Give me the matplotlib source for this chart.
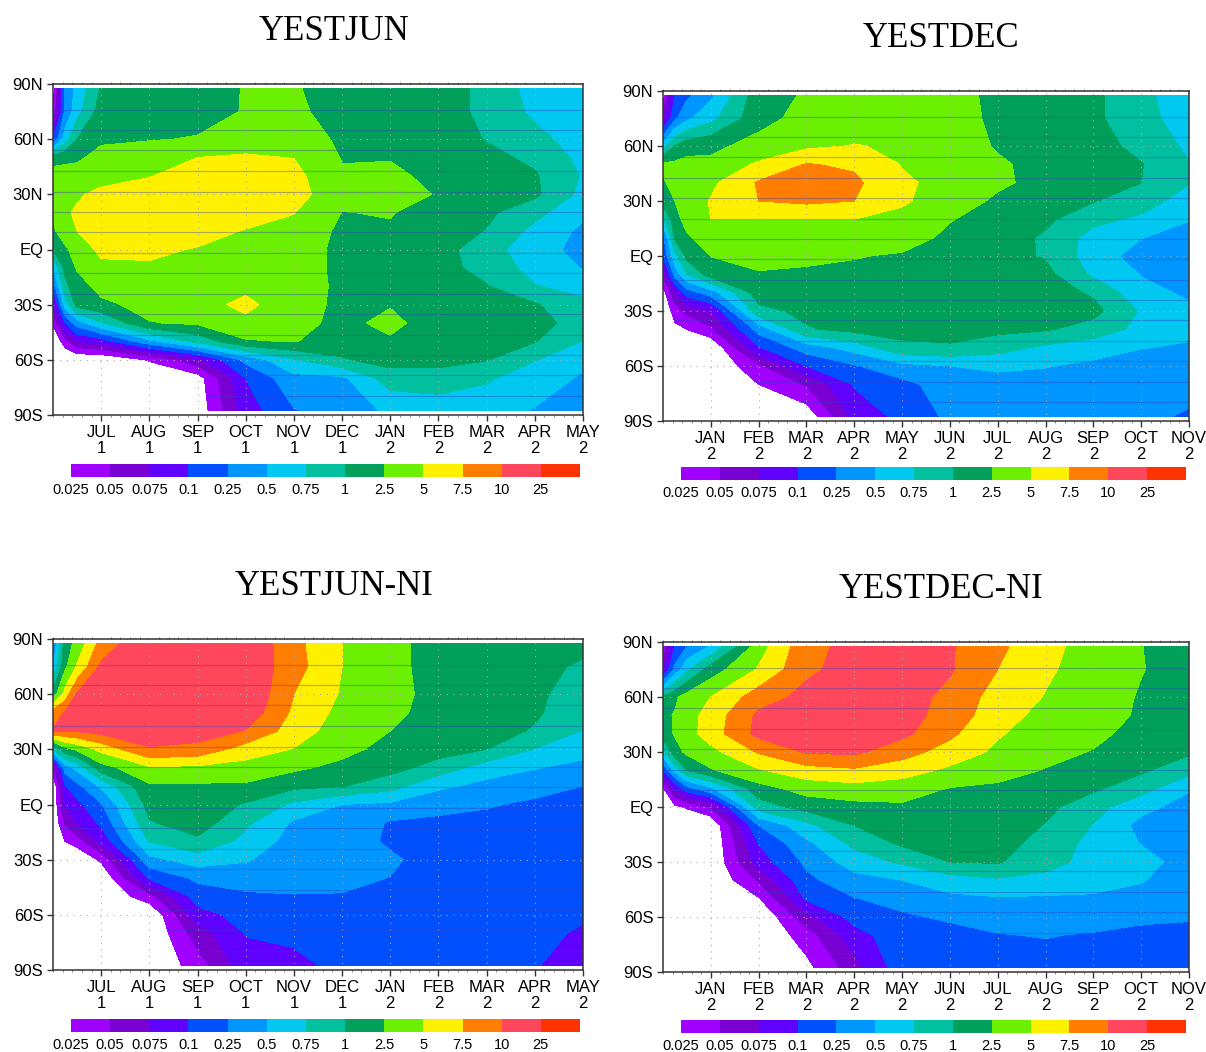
import numpy as np
import matplotlib
matplotlib.use("Agg")
from matplotlib import pyplot as plt
from matplotlib.colors import ListedColormap

# latitude rows and month columns of the four fields
lats = [87.5, 75, 60, 50, 40, 30, 20, 10, 0, -10, -20, -30, -40, -50, -60, -70, -87.5]
months = [0, 0.25, 0.5, 1, 2, 3, 4, 5, 6, 7, 8, 9, 10, 11]
level_labels = ["0.025", "0.05", "0.075", "0.1", "0.25", "0.5", "0.75", "1", "2.5", "5", "7.5", "10", "25"]
band_colors = ["#a000ff", "#7800d2", "#6000ff", "#0050ff", "#0096ff", "#00c8f0", "#00c0a0",
               "#00a05a", "#6af000", "#fff000", "#ff7d00", "#ff465a", "#ff3200"]
stripe_lats = [76, 65, 54, 42.8, 31.5, 20.4, 9.3, -1.8, -13, -24, -35, -46.4, -57.5, -68.5, -79.6]

labels_jun = ["JUL\n1", "AUG\n1", "SEP\n1", "OCT\n1", "NOV\n1", "DEC\n1", "JAN\n2", "FEB\n2", "MAR\n2", "APR\n2", "MAY\n2"]
labels_dec = ["JAN\n2", "FEB\n2", "MAR\n2", "APR\n2", "MAY\n2", "JUN\n2", "JUL\n2", "AUG\n2", "SEP\n2", "OCT\n2", "NOV\n2"]

# values are positions on the colour scale (0 = 0.025, 1 = 0.05 ... 12 = 25), one list per month column, -1 = below scale
yestjun = [
    [-0.5, 0, 3, 7.6, 8.4, 8.5, 8.2, 7.8, 7.0, 5, 3.5, 1.5, 0.2, -1, -1, -1, -1],
    [4.2, 4.2, 5.5, 7.7, 8.5, 8.7, 8.9, 8.6, 7.8, 7.3, 6.7, 5.5, 3, 0.5, -1, -1, -1],
    [5.3, 5.6, 7, 7.8, 8.5, 8.9, 9.1, 9.0, 8.5, 8.1, 7.6, 7.4, 4.5, 2, -1, -1, -1],
    [7.1, 7.5, 7.8, 8.4, 8.7, 9.2, 9.5, 9.4, 9.2, 8.8, 8.3, 7.8, 5.9, 2.5, -1, -1, -1],
    [7.3, 7.6, 7.95, 8.5, 8.97, 9.3, 9.5, 9.4, 9.15, 8.9, 8.6, 8.3, 7.95, 4.7, 0.1, -1, -1],
    [7.6, 7.7, 8.05, 9.0, 9.3, 9.5, 9.5, 9.3, 8.95, 8.8, 8.6, 8.55, 8.15, 6.3, 1.7, -0.5, -0.7],
    [8.05, 8.05, 8.6, 9.1, 9.4, 9.5, 9.4, 8.95, 8.7, 8.5, 8.7, 9.3, 8.7, 7.9, 4.3, 3, 2.5],
    [8.1, 8.2, 8.6, 8.98, 9.3, 9.4, 9.03, 8.7, 8.4, 8.3, 8.25, 8.2, 8.25, 8.05, 5.9, 4.7, 3.95],
    [7.5, 7.6, 7.8, 7.95, 8.1, 8.3, 7.98, 7.8, 7.8, 7.85, 7.9, 7.9, 7.8, 7.5, 6.9, 4.8, 4.4],
    [7.3, 7.4, 7.6, 7.95, 8.2, 8.3, 8.05, 7.9, 7.7, 7.6, 7.6, 7.95, 8.2, 7.9, 7.4, 6.5, 5.2],
    [7.45, 7.45, 7.5, 7.6, 7.75, 7.95, 7.6, 7.5, 7.45, 7.3, 7.3, 7.4, 7.6, 7.5, 7.3, 6.6, 5.4],
    [6.75, 6.75, 6.95, 7.25, 7.4, 7.4, 7.2, 6.95, 6.35, 6.7, 7.05, 7.3, 7.4, 7.3, 7.05, 6.15, 5.3],
    [5.6, 5.8, 6.3, 6.8, 7.1, 7.2, 6.3, 5.7, 5.5, 5.6, 6.05, 7.1, 7.5, 7.05, 6.05, 5.4, 4.95],
    [5.4, 5.4, 5.5, 5.7, 5.9, 5.7, 5.2, 4.8, 4.6, 4.95, 5.7, 6.2, 6.4, 5.95, 5.2, 4.9, 4.5],
]

yestdec = [
    [-0.5, 1.5, 5.5, 8.2, 7.9, 7.5, 5.8, 3.7, 3.1, 1.2, -0.5, -1, -1, -1, -1, -1, -1],
    [3.1, 3.8, 7.05, 8.2, 8.3, 8.0, 7.6, 7.15, 5.7, 4.4, 1.8, 0.5, -0.3, -1, -1, -1, -1],
    [3.8, 4.8, 7.6, 8.3, 8.5, 8.6, 8.4, 7.85, 7.3, 6.0, 3.5, 1.3, 0, -1, -1, -1, -1],
    [4.8, 5.7, 7.8, 8.2, 8.8, 9.05, 9.0, 8.5, 8.02, 7.5, 4.5, 1.9, 0.8, -1, -1, -1, -1],
    [7.6, 7.7, 8.3, 9.15, 10.1, 10.0, 9.0, 8.6, 8.2, 7.95, 7.5, 6.7, 4.4, 2.9, 0.75, 0, -1],
    [8.1, 8.3, 8.8, 10.05, 10.3, 10.2, 9.0, 8.5, 8.2, 7.85, 7.5, 7.25, 6.9, 4.5, 3.0, 1.1, -0.7],
    [8.2, 8.4, 9.05, 9.85, 10.2, 10.0, 9.0, 8.6, 8.05, 7.8, 7.6, 7.4, 7.3, 5.4, 3.9, 3.1, 2.3],
    [8.3, 8.5, 8.85, 8.95, 9.15, 9.1, 8.8, 8.4, 7.9, 7.7, 7.6, 7.5, 7.3, 6.8, 4.7, 3.7, 3.3],
    [8.3, 8.4, 8.6, 8.7, 8.7, 8.6, 8.05, 7.8, 7.6, 7.5, 7.5, 7.45, 7.3, 6.9, 5.0, 4.5, 4.2],
    [7.8, 7.8, 7.9, 8.15, 8.2, 7.8, 7.6, 7.5, 7.4, 7.4, 7.4, 7.4, 7.25, 6.4, 5.2, 4.6, 4.3],
    [7.5, 7.5, 7.6, 7.65, 7.65, 7.5, 7.2, 6.85, 6.9, 7.3, 7.5, 7.5, 7.1, 5.8, 5.05, 4.6, 4.3],
    [7.2, 7.2, 7.4, 7.5, 7.5, 7.05, 6.3, 5.6, 5.5, 5.8, 6.85, 7.3, 6.6, 5.4, 4.8, 4.5, 4.2],
    [6.3, 6.35, 6.7, 7.05, 7.0, 6.5, 5.8, 5.03, 4.6, 4.95, 5.3, 5.9, 5.7, 5.03, 4.6, 4.4, 4.2],
    [5.3, 5.5, 5.8, 6.05, 6.05, 5.5, 5.05, 4.6, 4.4, 4.5, 4.85, 5.2, 5.2, 4.9, 4.5, 4.3, 3.9],
]

yestjun_ni = [
    [4, 5, 7.4, 10.4, 11.05, 6, 0.6, -1, -1, -1, -1, -1, -1, -1, -1, -1, -1],
    [7.5, 7.8, 9.4, 11.1, 11.05, 7.65, 4.5, 2.9, 2.0, 1.1, 0.0, -1, -1, -1, -1, -1, -1],
    [8.3, 9.1, 11.1, 11.4, 11.1, 8.2, 5.3, 3.7, 2.7, 2.1, 0.5, -1, -1, -1, -1, -1, -1],
    [10.4, 11.2, 11.5, 11.6, 11.4, 9.3, 7.6, 5.2, 3.9, 3.2, 2.3, 0.2, -1, -1, -1, -1, -1],
    [11.9, 11.8, 11.6, 11.6, 11.3, 10.95, 8.85, 7.85, 7.4, 6.9, 6.05, 4.7, 3.15, 0.6, -1, -1, -1],
    [11.8, 11.8, 11.7, 11.6, 11.5, 10.7, 8.8, 7.85, 7.6, 7.5, 6.8, 5.5, 4.2, 3.5, 2.6, 1.5, 0.5],
    [11.9, 11.85, 11.95, 11.7, 10.95, 9.55, 8.6, 7.85, 6.9, 6.2, 5.7, 5.1, 4.4, 3.85, 3.4, 3.05, 2.6],
    [10.3, 10.4, 10.0, 9.8, 9.5, 8.95, 8.2, 7.25, 5.8, 4.85, 4.6, 4.4, 4.2, 3.97, 3.6, 3.25, 2.7],
    [9.0, 9.0, 8.9, 8.7, 8.5, 8.35, 7.7, 7.05, 5.0, 4.7, 4.5, 4.4, 4.2, 3.95, 3.6, 3.4, 3.3],
    [8.3, 8.3, 8.3, 8.25, 8.0, 7.6, 7.35, 6.4, 4.8, 3.9, 3.85, 4.15, 3.98, 3.7, 3.5, 3.4, 3.3],
    [7.6, 7.6, 7.7, 7.6, 7.6, 7.4, 6.6, 5.2, 4.3, 3.8, 3.7, 3.6, 3.55, 3.5, 3.45, 3.4, 3.3],
    [7.4, 7.45, 7.5, 7.5, 7.4, 7.0, 5.5, 4.7, 4.1, 3.7, 3.55, 3.5, 3.45, 3.4, 3.35, 3.3, 3.2],
    [7.2, 7.2, 7.2, 7.15, 6.9, 5.95, 5.05, 4.4, 3.8, 3.5, 3.45, 3.4, 3.35, 3.3, 3.25, 3.2, 3.1],
    [7.2, 6.9, 6.5, 6.3, 5.95, 5.4, 4.7, 4.0, 3.7, 3.5, 3.4, 3.3, 3.25, 3.2, 3.1, 2.9, 2.3],
]

yestdec_ni = [
    [0, 1.8, 7.1, 7.7, 7.5, 5.8, 3.0, -0.2, -1, -1, -1, -1, -1, -1, -1, -1, -1],
    [3.0, 4.3, 7.8, 8.1, 8.1, 7.6, 5.4, 2.0, -0.2, -1, -1, -1, -1, -1, -1, -1, -1],
    [4.0, 5.8, 8.4, 8.6, 8.6, 8.2, 7.0, 3.6, 0.1, -1, -1, -1, -1, -1, -1, -1, -1],
    [5.1, 7.5, 9.0, 9.4, 9.5, 8.7, 7.9, 4.8, 1.0, -1, -1, -1, -1, -1, -1, -1, -1],
    [8.55, 9.1, 10.5, 11.2, 11.3, 10.1, 8.9, 7.6, 6.5, 4, 3, 2.5, 1.1, -0.1, -1, -1, -1],
    [10.7, 10.8, 11.3, 11.6, 11.5, 11.1, 9.6, 8.4, 7.4, 5.7, 4.75, 4.2, 3.75, 3.15, 1.6, 0.5, -0.3],
    [11.3, 11.4, 11.6, 11.7, 11.6, 11.2, 9.85, 8.6, 7.7, 7.0, 6.25, 5.45, 4.65, 3.95, 3.4, 2.6, 1.6],
    [11.4, 11.5, 11.5, 11.4, 11.25, 10.4, 9.45, 8.45, 7.85, 7.6, 7.15, 6.15, 5.0, 4.35, 3.85, 3.6, 3.6],
    [11.1, 11.1, 10.7, 10.6, 10.2, 9.6, 8.8, 7.95, 7.8, 7.6, 7.4, 7.0, 5.55, 4.75, 4.15, 3.65, 3.5],
    [10.2, 10.0, 9.6, 9.4, 9.1, 8.8, 8.4, 7.8, 7.6, 7.5, 7.4, 7.1, 5.85, 4.9, 4.4, 3.95, 3.5],
    [9.35, 9.15, 8.95, 8.7, 8.5, 8.3, 7.95, 7.55, 7.25, 6.95, 6.6, 6.3, 5.75, 4.85, 4.45, 4.05, 3.6],
    [8.5, 8.55, 8.6, 8.5, 8.25, 7.95, 7.5, 7.15, 6.4, 5.95, 5.7, 5.7, 5.4, 4.85, 4.5, 3.9, 3.6],
    [8.02, 8.05, 7.9, 7.85, 7.65, 7.4, 7.15, 6.4, 5.3, 4.7, 4.97, 5.35, 5.05, 4.75, 4.15, 3.8, 3.5],
    [7.5, 7.5, 7.5, 7.4, 7.3, 7.15, 6.35, 5.1, 4.6, 4.4, 4.5, 4.6, 4.55, 4.4, 4.1, 3.7, 3.5],
]

W, H = 1206, 1052
plt.rcParams["font.family"] = ["Liberation Sans", "DejaVu Sans"]
fig = plt.figure(figsize=(W / 100, H / 100), dpi=100)
cmap = ListedColormap(band_colors)
levels = np.arange(14)


def px_axes(left, right, top, bottom):
    return fig.add_axes([left / W, 1 - bottom / H, (right - left) / W, (bottom - top) / H])


def draw_panel(field, title, title_xy, box, bar_box, xlabels):
    ax = px_axes(*box)
    z = np.array(field).T
    cs = ax.contourf(months, lats, z, levels=levels, cmap=cmap)

    # thin stripes across the coloured part of the map
    xs = np.linspace(0, 11, 600)
    for lat in stripe_lats:
        row = [np.interp(lat, lats[::-1], col[::-1]) for col in field]
        vals = np.interp(xs, months, row)
        ax.plot(np.ma.masked_where(vals < 0, xs), [lat] * len(xs), color="#3040c0", lw=0.8, alpha=0.4)

    ax.set_xlim(0, 11)
    ax.set_ylim(-90, 90)
    ax.set_xticks(range(1, 12))
    ax.set_xticklabels(xlabels, fontsize=12, linespacing=1.09)
    ax.set_yticks([90, 60, 30, 0, -30, -60, -90])
    ax.set_yticklabels(["90N", "60N", "30N", "EQ", "30S", "60S", "90S"], fontsize=12)
    ax.set_xticks(np.arange(0, 11.01, 0.2), minor=True)
    ax.tick_params(which="major", length=4, width=1.0, pad=3, color="#333333")
    ax.tick_params(which="minor", length=1.2, width=0.5, top=True, color="#555555")
    ax.grid(True, which="major", ls=(0, (1, 5)), lw=0.8, color="#aaaaaa")
    for s in ax.spines.values():
        s.set_linewidth(1.1)
        s.set_color("#333333")

    fig.text(title_xy[0] / W, 1 - title_xy[1] / H, title, family="Liberation Serif", fontsize=25,
             ha="center", va="baseline")

    cax = px_axes(*bar_box)
    cb = fig.colorbar(cs, cax=cax, orientation="horizontal", ticks=levels[:-1])
    cb.ax.set_xticklabels(level_labels, fontsize=10.5)
    cb.ax.tick_params(length=0, pad=4)
    cb.outline.set_visible(False)
    cb.dividers.set_visible(False)


draw_panel(yestjun, "YESTJUN", (334, 40), (53, 583, 84, 415), (71, 580, 464, 477), labels_jun)
draw_panel(yestdec, "YESTDEC", (941, 47), (663, 1189, 91, 421), (681, 1186, 467, 480), labels_dec)
draw_panel(yestjun_ni, "YESTJUN-NI", (334, 595), (53, 583, 639, 970), (71, 580, 1019, 1032), labels_jun)
draw_panel(yestdec_ni, "YESTDEC-NI", (941, 598), (663, 1189, 642, 972), (681, 1186, 1020, 1033), labels_dec)

plt.savefig("out.png", dpi=100)
